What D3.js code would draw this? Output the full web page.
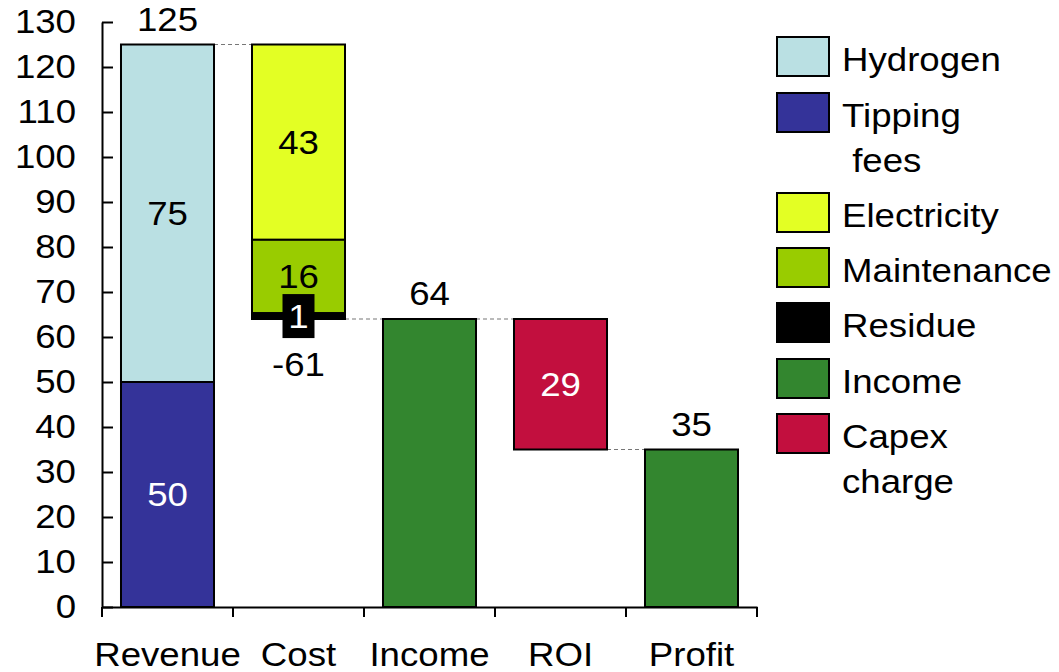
<!DOCTYPE html>
<html><head><meta charset="utf-8">
<script src="https://cdn.jsdelivr.net/npm/d3@7"></script>
<style>body{margin:0;background:#fff}svg{display:block;font-family:"Liberation Sans",Arial,sans-serif}</style>
</head><body><svg id="c" width="1059" height="672"></svg>
<script>
const categories = ["Revenue","Cost","Income","ROI","Profit"];
const seriesNames = ["Hydrogen","Tipping fees","Electricity","Maintenance","Residue","Income","Capex charge"];
const seriesColors = ["#bae0e3","#343399","#e3ff24","#99cc00","#000000","#33862f","#c20f3e"];
const revenueParts = [50, 75];          // Tipping fees, Hydrogen (bottom -> top)
const costParts = [43.4, 16.3, 1.3];    // Electricity, Maintenance, Residue (top -> bottom)
const incomeValue = 64;
const capexValue = 29;
const profitValue = 35;
const yTicks = [0,10,20,30,40,50,60,70,80,90,100,110,120,130];

(function(){
const svg = d3.select("#c");
const FS = 33, SX = 1.11;
const x = d3.scaleBand().domain(categories).range([102, 757]).paddingInner(0.29).paddingOuter(0.145);
const y = d3.scaleLinear().domain([0, 130]).range([607, 22]);

function stretch(sel){
  sel.each(function(){
    const t = d3.select(this);
    const tx = +t.attr("x") || 0, ty = +t.attr("y") || 0;
    t.attr("x",0).attr("y",0).attr("transform",`translate(${tx},${ty}) scale(${SX},1)`);
  });
}

const segs = [];
const revTotal = d3.sum(revenueParts);
segs.push({cat:"Revenue", s:1, y0:0, y1:revenueParts[0], label:String(revenueParts[0]), lc:"#fff"});
segs.push({cat:"Revenue", s:0, y0:revenueParts[0], y1:revTotal, label:String(revenueParts[1]), lc:"#000"});
let level = revTotal;
const costNames = [2,3,4];
costParts.forEach((v,i)=>{
  segs.push({cat:"Cost", s:costNames[i], y0:level-v, y1:level, label:i<2?String(Math.round(v)):null, lc:"#000"});
  level -= v;
});
const costBottom = level;
segs.push({cat:"Income", s:5, y0:0, y1:incomeValue, label:null});
segs.push({cat:"ROI", s:6, y0:incomeValue-capexValue, y1:incomeValue, label:String(Math.round(capexValue)), lc:"#fff"});
segs.push({cat:"Profit", s:5, y0:0, y1:profitValue, label:null});

const conns = [
  {a:"Revenue", b:"Cost", v:revTotal},
  {a:"Cost", b:"Income", v:costBottom},
  {a:"Income", b:"ROI", v:incomeValue},
  {a:"ROI", b:"Profit", v:incomeValue-capexValue}
];
svg.selectAll("line.conn").data(conns).join("line").attr("class","conn")
  .attr("x1",d=>x(d.a)+x.bandwidth()).attr("x2",d=>x(d.b))
  .attr("y1",d=>y(d.v)).attr("y2",d=>y(d.v))
  .attr("stroke","#777").attr("stroke-width",1.2).attr("stroke-dasharray","4,3");

svg.selectAll("rect.seg").data(segs).join("rect").attr("class","seg")
  .attr("x",d=>x(d.cat)).attr("width",x.bandwidth())
  .attr("y",d=>y(d.y1)).attr("height",d=>y(d.y0)-y(d.y1))
  .attr("fill",d=>seriesColors[d.s]).attr("stroke","#000").attr("stroke-width",2);

svg.selectAll("text.inl").data(segs.filter(d=>d.label)).join("text").attr("class","inl")
  .attr("x",d=>x(d.cat)+x.bandwidth()/2).attr("y",d=>(y(d.y0)+y(d.y1))/2)
  .attr("dy","0.36em").attr("text-anchor","middle").attr("font-size",FS)
  .attr("fill",d=>d.lc).text(d=>d.label).call(stretch);

const resCx = x("Cost")+x.bandwidth()/2, resCy = (y(costBottom)+y(costBottom+costParts[2]))/2;
svg.append("rect").attr("x",resCx-16).attr("y",resCy-22).attr("width",32).attr("height",44).attr("fill","#000");
svg.append("text").attr("x",resCx).attr("y",resCy).attr("dy","0.36em").attr("text-anchor","middle")
  .attr("font-size",FS).attr("fill","#fff").text(String(Math.round(costParts[2]))).call(stretch);

const outs = [
  {cat:"Revenue", v:revTotal, t:String(revTotal), pos:"above"},
  {cat:"Cost", v:costBottom, t:"-"+Math.round(d3.sum(costParts)), pos:"below"},
  {cat:"Income", v:incomeValue, t:String(Math.round(incomeValue)), pos:"above"},
  {cat:"Profit", v:profitValue, t:String(profitValue), pos:"above"}
];
svg.selectAll("text.out").data(outs).join("text").attr("class","out")
  .attr("x",d=>x(d.cat)+x.bandwidth()/2)
  .attr("y",d=>d.pos==="above"? y(d.v)-14 : y(d.v)+57)
  .attr("text-anchor","middle").attr("font-size",FS).text(d=>d.t).call(stretch);

const ya = svg.append("g").attr("transform","translate(102,0)")
  .call(d3.axisLeft(y).tickValues(yTicks).tickSizeInner(-11).tickSizeOuter(0).tickPadding(26));
ya.selectAll("text").attr("font-size",FS).attr("font-family","Liberation Sans, Arial, sans-serif").attr("fill","#000").call(stretch);
ya.selectAll("line,path").attr("stroke","#000").attr("stroke-width",2);

const xa = svg.append("g").attr("transform","translate(0,607)")
  .call(d3.axisBottom(x).tickSize(0).tickPadding(36));
xa.selectAll("text").attr("font-size",FS).attr("font-family","Liberation Sans, Arial, sans-serif").attr("fill","#000").attr("dy","0.71em").call(stretch);
xa.select("path").attr("stroke","#000").attr("stroke-width",2);
const bounds = categories.map(c=>x(c)-x.step()*x.paddingInner()/2).concat([x(categories[categories.length-1])+x.bandwidth()+x.step()*x.paddingInner()/2]);
xa.selectAll("line.bt").data(bounds).join("line").attr("class","bt")
  .attr("x1",d=>d).attr("x2",d=>d).attr("y1",0).attr("y2",10).attr("stroke","#000").attr("stroke-width",2);

const legLines = [["Hydrogen"],["Tipping"," fees"],["Electricity"],["Maintenance"],["Residue"],["Income"],["Capex","charge"]];
const legY = [37,93,193,248,303,359,414];
const lg = svg.append("g");
seriesNames.forEach((n,i)=>{
  lg.append("rect").attr("x",777).attr("y",legY[i]).attr("width",52).attr("height",39)
    .attr("fill",seriesColors[i]).attr("stroke","#000").attr("stroke-width",2);
  legLines[i].forEach((t,j)=>{
    lg.append("text").attr("x",842).attr("y",legY[i]+22+j*45).attr("dy","0.36em")
      .attr("font-size",FS).attr("xml:space","preserve").style("white-space","pre").text(t).call(stretch);
  });
});
})();
</script></body></html>
